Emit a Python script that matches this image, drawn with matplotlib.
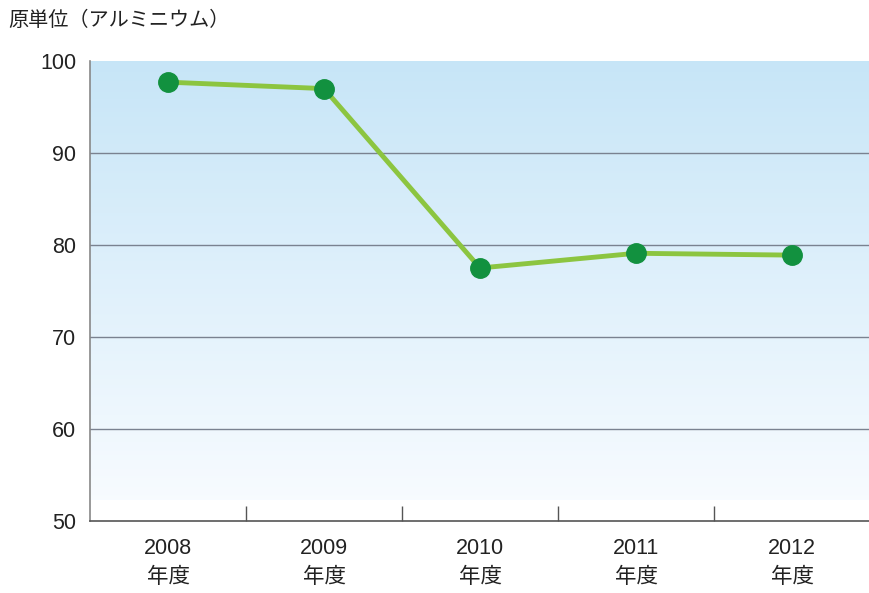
import matplotlib
matplotlib.use('Agg')
import matplotlib.pyplot as plt
import numpy as np

# データ
years = ['2008', '2009', '2010', '2011', '2012']
values = [97.7, 97.0, 77.5, 79.1, 78.9]
yticks = [50, 60, 70, 80, 90, 100]
title = '原単位（アルミニウム）'

fonts = ['Liberation Sans', 'Noto Sans CJK JP', 'DejaVu Sans']
plt.rcParams['font.family'] = fonts

fig = plt.figure(figsize=(8.7, 5.93), dpi=100)
ax = fig.add_axes([90 / 870, 1 - 521 / 593, 1 - 90 / 870, (521 - 61) / 593])

x = np.arange(len(years))
ax.set_xlim(-0.5, len(years) - 0.5)
ax.set_ylim(50, 100)

# 背景グラデーション
grad = np.linspace(0, 1, 256).reshape(-1, 1)
top = np.array([0.78, 0.90, 0.97])
bottom = np.array([0.97, 0.985, 1.0])
img = bottom + (top - bottom) * grad[..., None]
img = img.reshape(256, 1, 3)
ax.imshow(img, extent=[-0.5, len(years) - 0.5, 52.3, 100], origin='lower',
          aspect='auto', zorder=0)

for v in yticks[1:-1]:
    ax.axhline(v, color='#7a8290', linewidth=1.0, zorder=1)

ax.plot(x, values, color='#8cc540', linewidth=3.5, zorder=2)
ax.plot(x, values, 'o', color='#12913f', markersize=14, zorder=3)

ax.set_yticks(yticks)
ax.set_yticklabels([str(v) for v in yticks], fontsize=15.5, color='#222222')
ax.tick_params(axis='y', length=0, pad=10)

ax.set_xticks(x)
ax.set_xticklabels([y + '\n年度' for y in years], fontsize=15.5, color='#222222',
                   linespacing=1.5)
ax.tick_params(axis='x', which='major', length=0, pad=12)
ax.set_xticks(x[:-1] + 0.5, minor=True)
ax.tick_params(axis='x', which='minor', direction='in', length=11,
               color='#555555', width=1)

for s in ['top', 'right']:
    ax.spines[s].set_visible(False)
ax.spines['left'].set_color('#888888')
ax.spines['bottom'].set_color('#555555')
for s in ['left', 'bottom']:
    ax.spines[s].set_linewidth(1.2)

fig.text(8 / 870, 1 - 20 / 593, title, fontsize=14.5, color='#222222',
         va='center', ha='left')

plt.savefig('out.png', dpi=100)
plt.close(fig)
